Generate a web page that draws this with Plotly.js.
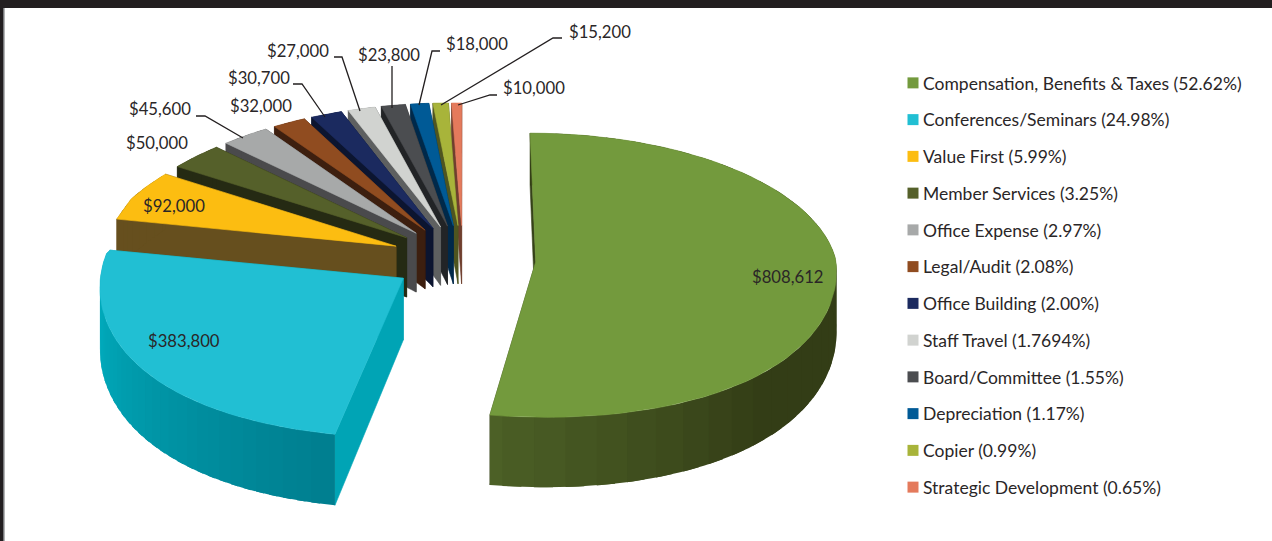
<!DOCTYPE html>
<html>
<head>
<meta charset="utf-8">
<script src="https://cdn.plot.ly/plotly-3.0.1.min.js"></script>
<style>html,body{margin:0;padding:0;background:#fff}#chart{width:1272px;height:541px}</style>
</head>
<body>
<div id="chart"></div>
<script>
// Expense categories, dollar amounts and the shares printed in the legend
const categories = ["Compensation, Benefits & Taxes", "Conferences/Seminars", "Value First", "Member Services", "Office Expense", "Legal/Audit", "Office Building", "Staff Travel", "Board/Committee", "Depreciation", "Copier", "Strategic Development"];
const amounts = [808612, 383800, 92000, 50000, 45600, 32000, 30700, 27000, 23800, 18000, 15200, 10000];
const shareLabels = ["52.62%", "24.98%", "5.99%", "3.25%", "2.97%", "2.08%", "2.00%", "1.7694%", "1.55%", "1.17%", "0.99%", "0.65%"];

// Slice colours: top face and side wall
const topColors = ["#739a3d", "#21bfd3", "#fcbd11", "#55602a", "#a7a9a9", "#904c20", "#1b2a5f", "#d1d3d0", "#4b4d50", "#005a96", "#a8b43a", "#e47a5c"];
const wallColors = ["#36421a", "#00a4b5", "#664f1e", "#252a13", "#4a4a4c", "#3d1f0f", "#0c1530", "#5e6060", "#222426", "#00294a", "#4f5520", "#6f3e2e"];

// Camera model of the tilted disc
const view = {cx: 463, cy: 259, rx: 300, ry: 141, explode: 0.243};
const rad = d => d * Math.PI / 180;
function project(X, Y, z) {
  // vertical and horizontal foreshortening differ behind and in front of the centre
  const py = 1 / (1 + (Y > 0 ? 0.1 : 0.09) * Y);
  let kx;
  if (Y > 0) kx = X < 0 ? Math.max(0.16, 0.3 - 0.35 * Y) : 0.085;
  else kx = 0.04 + 0.085 * Math.abs(Y);
  const px = 1 / (1 + kx * Y);
  const lift = 5 * Math.max(0, -X);
  return [view.cx + view.rx * X * px, view.cy - view.ry * Y * py - lift + z * (94 * py - 33.5)];
}

const total = amounts.reduce((a, b) => a + b, 0);
let running = 0;
const slices = amounts.map((v, i) => {
  const a0 = running / total * 360;
  running += v;
  const a1 = running / total * 360;
  const mid = rad((a0 + a1) / 2);
  return {i, a0, a1, ox: view.explode * Math.sin(mid), oy: view.explode * Math.cos(mid)};
});

function edgePoint(s, ang, r, z) {
  return project(s.ox + r * Math.sin(rad(ang)), s.oy + r * Math.cos(rad(ang)), z);
}
function polygon(points, color, extra) {
  const xs = points.map(p => p[0]), ys = points.map(p => p[1]);
  xs.push(xs[0]); ys.push(ys[0]);
  return Object.assign({
    type: "scatter", mode: "lines", x: xs, y: ys, fill: "toself", fillcolor: color,
    line: {color: color, width: 0.6}, showlegend: false, hoverinfo: "skip"
  }, extra || {});
}
function mix(c0, c1, t) {
  const h = c => [1, 3, 5].map(k => parseInt(c.substr(k, 2), 16));
  const a = h(c0), b = h(c1);
  return "rgb(" + a.map((v, k) => Math.round(v + (b[k] - v) * t)).join(",") + ")";
}
// Rim shade along the arc, t = 0 at the clockwise start of the slice
function rimColor(i, t) {
  if (i === 0) return mix("#333d16", "#4c6026", Math.max(0, (t - 0.72) / 0.28));
  if (i === 1) return mix("#007f90", "#00a9ba", Math.min(1, t / 0.75));
  return wallColors[i];
}

const traces = [];
function addSlice(s) {
  const wall = wallColors[s.i];
  [s.a1, s.a0].forEach(ang => {
    traces.push(polygon([edgePoint(s, ang, 0, 0), edgePoint(s, ang, 1, 0), edgePoint(s, ang, 1, 1), edgePoint(s, ang, 0, 1)], wall));
  });
  // outer rim, painted from the far end so each band overlaps the one after it
  const sweep = s.a1 - s.a0;
  const bands = s.i < 2 ? 36 : Math.max(1, Math.ceil(sweep / 3));
  for (let b = bands - 1; b >= 0; b--) {
    const u0 = s.a0 + sweep * b / bands;
    const u1 = Math.min(s.a1, u0 + 1.6 * sweep / bands);
    const pts = [];
    const steps = 4;
    for (let k = 0; k <= steps; k++) pts.push(edgePoint(s, u0 + (u1 - u0) * k / steps, 1, 0));
    for (let k = steps; k >= 0; k--) pts.push(edgePoint(s, u0 + (u1 - u0) * k / steps, 1, 1));
    traces.push(polygon(pts, rimColor(s.i, b / (bands - 1 || 1)), {line: {width: 0}}));
  }
  const top = [edgePoint(s, s.a0, 0, 0)];
  for (let t = 0; t <= 60; t++) top.push(edgePoint(s, s.a0 + (s.a1 - s.a0) * t / 60, 1, 0));
  traces.push(polygon(top, topColors[s.i], {
    name: categories[s.i], text: "$" + amounts[s.i].toLocaleString("en-US"), hoverinfo: "name+text", hoveron: "fills"
  }));
}
// Back to front: the small slices first, then round to the large left slice
addSlice(slices[0]);
slices.slice(1).reverse().forEach(addSlice);

// Legend entries
categories.forEach((c, i) => {
  traces.push({
    type: "scatter", mode: "markers", x: [null], y: [null], name: c + " (" + shareLabels[i] + ")",
    legendgroup: "g" + i, marker: {symbol: "square", size: 11, color: topColors[i]}, hoverinfo: "skip"
  });
});

// Label anchors and leader lines
const labelSpots = [[750, 277], [146, 341], [141, 206], [124, 143], [127, 109], [228, 106], [226, 78], [265, 51], [356, 55], [444, 44], [567, 32], [501, 88]];
const leaders = [
  [[196, 116], [205, 116], [243, 138]],
  [[293, 84], [302, 84], [325, 117]],
  [[334, 57], [342, 57], [360, 111]],
  [[392, 66], [392, 108]],
  [[440, 51], [432, 51], [419, 105]],
  [[562, 38], [553, 38], [441, 105]],
  [[497, 95], [490, 95], [458, 105]]
];
const ink = "#2a2627";
const fontFamily = "Lato, sans-serif";
const annotations = amounts.map((v, i) => ({
  x: labelSpots[i][0], y: labelSpots[i][1], xref: "x", yref: "y", xanchor: "left", yanchor: "middle",
  text: "$" + v.toLocaleString("en-US"), showarrow: false, font: {family: fontFamily, size: 16.7, color: ink}
}));
const shapes = leaders.map(pts => ({
  type: "path", xref: "x", yref: "y", path: pts.map((p, k) => (k ? "L" : "M") + p[0] + "," + p[1]).join(" "),
  line: {color: "#231f20", width: 1.3}
}));
// Dark page frame along the top and left, with a soft grey inner edge
shapes.push({type: "rect", xref: "x", yref: "y", x0: 0, x1: 1272, y0: 0, y1: 8, fillcolor: "#231f20", line: {width: 0}});
shapes.push({type: "rect", xref: "x", yref: "y", x0: 0, x1: 3, y0: 0, y1: 541, fillcolor: "#231f20", line: {width: 0}});
shapes.push({type: "rect", xref: "x", yref: "y", x0: 3, x1: 4, y0: 8, y1: 541, fillcolor: "#77787a", line: {width: 0}});
shapes.push({type: "rect", xref: "x", yref: "y", x0: 4, x1: 5, y0: 8, y1: 541, fillcolor: "#b4b5b6", line: {width: 0}});

const layout = {
  width: 1272, height: 541, margin: {l: 0, r: 0, t: 0, b: 0},
  paper_bgcolor: "#fff", plot_bgcolor: "#fff",
  xaxis: {range: [0, 1272], visible: false, fixedrange: true},
  yaxis: {range: [541, 0], visible: false, fixedrange: true},
  showlegend: true,
  legend: {x: 883 / 1272, y: 1 - 65 / 541, xanchor: "left", yanchor: "top", tracegroupgap: 11,
    font: {family: fontFamily, size: 17.5, color: ink}, bgcolor: "rgba(0,0,0,0)"},
  annotations, shapes
};
Plotly.newPlot("chart", traces, layout, {displayModeBar: false}).then(() => {
  // Pull the swatches in towards their text
  document.querySelectorAll("#chart .legend .legendsymbols").forEach(g => g.setAttribute("transform", "translate(10,0)"));
});
</script>
</body>
</html>
